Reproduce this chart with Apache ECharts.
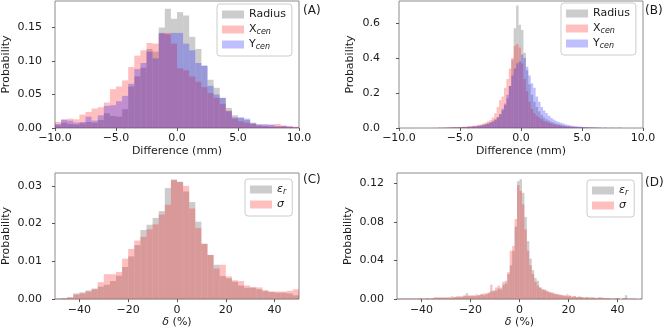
<!DOCTYPE html>
<html>
<head>
<meta charset="utf-8">
<script src="https://cdn.jsdelivr.net/npm/echarts@6/dist/echarts.min.js"></script>
<style>
	html, body { margin: 0; padding: 0; background: #fff; }
	#chart { width: 665px; height: 329px; }
</style>
</head>
<body>
<div id="chart"></div>
<script>
// (A) coarse position/radius differences, 0.5 mm bins from -10 mm
const aStart = -10
const aStep = 0.5
const aRadius = [
	0.004, 0.008, 0.006, 0.005, 0.007, 0.009, 0.008, 0.012, 0.022, 0.018,
	0.017, 0.028, 0.062, 0.077, 0.090, 0.118, 0.114, 0.150, 0.178, 0.163,
	0.173, 0.168, 0.136, 0.118, 0.093, 0.072, 0.060, 0.045, 0.030, 0.019,
	0.015, 0.012, 0.008, 0.004, 0.003, 0.002, 0.003, 0.002, 0.001, 0.001
]
const aXcen = [
	0.009, 0.012, 0.014, 0.013, 0.020, 0.024, 0.029, 0.031, 0.038, 0.058,
	0.062, 0.071, 0.091, 0.108, 0.116, 0.127, 0.126, 0.141, 0.142, 0.126,
	0.089, 0.086, 0.077, 0.069, 0.061, 0.052, 0.045, 0.036, 0.026, 0.014,
	0.010, 0.008, 0.006, 0.004, 0.004, 0.005, 0.006, 0.004, 0.003, 0.002
]
const aYcen = [
	0.006, 0.013, 0.011, 0.008, 0.009, 0.017, 0.011, 0.019, 0.033, 0.034,
	0.040, 0.048, 0.066, 0.088, 0.097, 0.114, 0.104, 0.142, 0.140, 0.142,
	0.142, 0.126, 0.116, 0.097, 0.093, 0.063, 0.050, 0.045, 0.025, 0.016,
	0.016, 0.014, 0.007, 0.006, 0.006, 0.005, 0.002, 0.003, 0.002, 0.001
]

// (B) refined differences, 0.2 mm bins from -10 mm
const bStart = -10
const bStep = 0.2
const bRadius = [
	0, 0, 0, 0, 0, 0, 0, 0, 0, 0,
	0, 0, 0, 0, 0, 0, 0.002, 0, 0.003, 0.002,
	0.004, 0.003, 0.005, 0.004, 0.006, 0.005, 0.007, 0.006, 0.009, 0.008,
	0.012, 0.010, 0.014, 0.016, 0.019, 0.024, 0.028, 0.034, 0.042, 0.052,
	0.062, 0.078, 0.100, 0.130, 0.170, 0.240, 0.390, 0.570, 0.700, 0.590,
	0.560, 0.430, 0.330, 0.250, 0.190, 0.150, 0.120, 0.095, 0.075, 0.060,
	0.050, 0.042, 0.035, 0.030, 0.025, 0.021, 0.018, 0.015, 0.012, 0.010,
	0.008, 0.007, 0.006, 0.005, 0.004, 0.004, 0.003, 0.003, 0.002, 0.002,
	0.002, 0.001, 0.001, 0, 0.001, 0, 0, 0.001, 0, 0,
	0, 0, 0, 0, 0, 0, 0, 0, 0, 0
]
const bXcen = [
	0, 0, 0, 0, 0, 0, 0, 0, 0, 0,
	0, 0, 0, 0, 0.001, 0, 0.002, 0.001, 0.003, 0.002,
	0.003, 0.004, 0.006, 0.004, 0.005, 0.006, 0.008, 0.007, 0.010, 0.011,
	0.013, 0.014, 0.018, 0.020, 0.025, 0.030, 0.038, 0.045, 0.060, 0.084,
	0.120, 0.160, 0.180, 0.230, 0.280, 0.340, 0.400, 0.470, 0.480, 0.460,
	0.370, 0.280, 0.210, 0.150, 0.110, 0.085, 0.070, 0.060, 0.050, 0.040,
	0.035, 0.030, 0.025, 0.020, 0.018, 0.015, 0.012, 0.010, 0.009, 0.008,
	0.007, 0.006, 0.005, 0.004, 0.004, 0.003, 0.003, 0.002, 0.002, 0.002,
	0.001, 0.001, 0.001, 0, 0.001, 0, 0.001, 0, 0, 0.001,
	0.004, 0, 0, 0, 0, 0, 0, 0, 0, 0
]
const bYcen = [
	0, 0, 0, 0, 0, 0, 0, 0, 0, 0,
	0, 0, 0, 0, 0, 0, 0, 0.001, 0, 0.001,
	0.001, 0.002, 0.002, 0.003, 0.003, 0.004, 0.004, 0.005, 0.006, 0.006,
	0.008, 0.009, 0.011, 0.013, 0.016, 0.020, 0.024, 0.030, 0.036, 0.045,
	0.060, 0.080, 0.110, 0.140, 0.190, 0.240, 0.300, 0.340, 0.370, 0.380,
	0.420, 0.400, 0.350, 0.300, 0.255, 0.230, 0.180, 0.150, 0.120, 0.100,
	0.085, 0.070, 0.058, 0.048, 0.040, 0.034, 0.030, 0.025, 0.020, 0.017,
	0.014, 0.012, 0.010, 0.009, 0.008, 0.006, 0.005, 0.004, 0.004, 0.003,
	0.003, 0.002, 0.002, 0.001, 0.001, 0.001, 0, 0.001, 0, 0,
	0, 0, 0, 0, 0, 0, 0, 0, 0, 0
]

// (C) coarse permittivity / conductivity error, 2.5 % bins from -50 %
const cStart = -50
const cStep = 2.5
const cEps = [
	0.0002, 0.0003, 0.0005, 0.0015, 0.0018, 0.0023, 0.0028, 0.0033, 0.0038, 0.0048,
	0.0062, 0.0085, 0.0113, 0.0143, 0.0183, 0.0197, 0.0215, 0.0233, 0.0294, 0.0317,
	0.0311, 0.0285, 0.0257, 0.0205, 0.0147, 0.0117, 0.0091, 0.0061, 0.0055, 0.0046,
	0.0036, 0.0030, 0.0030, 0.0026, 0.0021, 0.0019, 0.0017, 0.0017, 0.0015, 0.0010
]
const cSigma = [
	0.0001, 0.0002, 0.0004, 0.0012, 0.0015, 0.0020, 0.0026, 0.0045, 0.0066, 0.0066,
	0.0072, 0.0107, 0.0133, 0.0155, 0.0165, 0.0185, 0.0198, 0.0224, 0.0250, 0.0315,
	0.0310, 0.0300, 0.0240, 0.0188, 0.0146, 0.0117, 0.0081, 0.0091, 0.0060, 0.0050,
	0.0048, 0.0036, 0.0032, 0.0031, 0.0024, 0.0020, 0.0020, 0.0020, 0.0022, 0.0026
]

// (D) refined error, 1 % bins from -50 %
const dStart = -50
const dStep = 1
const dEps = [
	0, 0.001, 0, 0.001, 0, 0, 0.001, 0, 0.001, 0.001,
	0, 0.001, 0.001, 0, 0.001, 0.001, 0.002, 0.001, 0.001, 0.002,
	0.001, 0.002, 0.001, 0.002, 0.002, 0.003, 0.002, 0.003, 0.006, 0.003,
	0.003, 0.004, 0.003, 0.004, 0.005, 0.004, 0.006, 0.006, 0.008, 0.009,
	0.009, 0.011, 0.012, 0.015, 0.019, 0.026, 0.035, 0.050, 0.075, 0.122,
	0.124, 0.110, 0.085, 0.060, 0.042, 0.030, 0.022, 0.019, 0.012, 0.010,
	0.009, 0.008, 0.007, 0.006, 0.005, 0.005, 0.004, 0.004, 0.003, 0.003,
	0.003, 0.002, 0.003, 0.002, 0.002, 0.002, 0.001, 0.002, 0.001, 0.002,
	0.001, 0.001, 0.002, 0.001, 0.001, 0.001, 0.001, 0, 0.001, 0.001,
	0.001, 0, 0.001, 0.004, 0.001, 0, 0.001, 0, 0, 0
]
const dSigma = [
	0.001, 0, 0.001, 0, 0.001, 0.001, 0, 0.001, 0, 0.001,
	0.001, 0, 0.001, 0.001, 0.001, 0.002, 0.001, 0.002, 0.002, 0.001,
	0.002, 0.001, 0.003, 0.002, 0.003, 0.002, 0.003, 0.004, 0.003, 0.004,
	0.004, 0.003, 0.005, 0.004, 0.005, 0.006, 0.005, 0.007, 0.015, 0.008,
	0.012, 0.014, 0.010, 0.018, 0.016, 0.028, 0.050, 0.055, 0.083, 0.118,
	0.112, 0.098, 0.072, 0.050, 0.035, 0.026, 0.018, 0.014, 0.012, 0.010,
	0.010, 0.008, 0.007, 0.007, 0.006, 0.005, 0.005, 0.004, 0.004, 0.005,
	0.004, 0.003, 0.003, 0.002, 0.003, 0.002, 0.002, 0.002, 0.002, 0.001,
	0.002, 0.001, 0.001, 0.002, 0.001, 0.001, 0.001, 0.001, 0, 0.001,
	0.001, 0, 0.001, 0.001, 0, 0.001, 0, 0.001, 0, 0.001
]

const mmTicks = [-10, -5, 0, 5, 10]
const pctTicks = [-40, -20, 0, 20, 40]
const aYTicks = [0, 0.05, 0.1, 0.15]
const bYTicks = [0, 0.2, 0.4, 0.6]
const cYTicks = [0, 0.01, 0.02, 0.03]
const dYTicks = [0, 0.04, 0.08, 0.12]

const GRAY = 'rgba(128,128,128,0.4)'
const RED = 'rgba(255,0,0,0.25)'
const BLUE = 'rgba(0,0,255,0.25)'
const FONT = 'DejaVu Sans'
const INK = '#1a1a1a'

const legendText = {
	'A Radius': 'Radius', 'A X': 'X{sub|cen}', 'A Y': 'Y{sub|cen}',
	'B Radius': 'Radius', 'B X': 'X{sub|cen}', 'B Y': 'Y{sub|cen}',
	'C eps': '{it|ε}{sub|r}', 'C sigma': '{it|σ}',
	'D eps': '{it|ε}{sub|r}', 'D sigma': '{it|σ}'
}

const node = document.getElementById('chart')
const myChart = echarts.init(node, null, { renderer: 'canvas' })

function bins(start, step, values) {
	return values.map((v, i) => [start + step * (i + 0.5), v])
}

function minus(s) {
	return s.replace('-', '\u2212')
}

const grids = [
	{ left: 54, top: 1, width: 245, height: 127 },
	{ left: 399, top: 1, width: 244, height: 127 },
	{ left: 53, top: 173, width: 246, height: 128 },
	{ left: 397, top: 173, width: 245, height: 128 }
]

function xAxis(idx, min, max, ticks, name, fmt, labelMargin, nameGap) {
	return {
		type: 'value', gridIndex: idx, min: min, max: max,
		name: name, nameLocation: 'middle', nameGap: nameGap,
		nameTextStyle: { fontFamily: FONT, fontSize: 11, color: INK, rich: { it: { fontFamily: FONT, fontSize: 11, fontStyle: 'italic', color: INK } } },
		axisLine: { show: false, onZero: false },
		axisTick: { show: true, length: 3, customValues: ticks, lineStyle: { color: '#555' } },
		axisLabel: { customValues: ticks, formatter: fmt, margin: labelMargin, fontFamily: FONT, fontSize: 11, color: INK },
		splitLine: { show: false }
	}
}

function yAxis(idx, max, ticks, digits, labelMargin) {
	return {
		type: 'value', gridIndex: idx, min: 0, max: max,
		name: 'Probability', nameLocation: 'middle', nameGap: 43, nameRotate: 90,
		nameTextStyle: { fontFamily: FONT, fontSize: 11, color: INK },
		axisLine: { show: false, onZero: false },
		axisTick: { show: true, length: 3, customValues: ticks, lineStyle: { color: '#555' } },
		axisLabel: { customValues: ticks, formatter: v => v.toFixed(digits), margin: labelMargin, fontFamily: FONT, fontSize: 11, color: INK },
		splitLine: { show: false }
	}
}

function hist(idx, name, color, start, step, values) {
	return {
		type: 'bar', name: name, xAxisIndex: idx, yAxisIndex: idx,
		data: bins(start, step, values),
		barWidth: '100%', barGap: '-100%',
		itemStyle: { color: color },
		silent: true
	}
}

function legend(idx, names, left, top) {
	return {
		show: true, orient: 'vertical', left: left, top: top,
		data: names, selectedMode: false,
		icon: 'rect', itemWidth: 22, itemHeight: 8, itemGap: 2,
		padding: [4, 6, 5, 5],
		backgroundColor: 'rgba(255,255,255,0.8)',
		borderColor: '#cccccc', borderWidth: 1, borderRadius: 3,
		formatter: n => legendText[n],
		textStyle: {
			fontFamily: FONT, fontSize: 11, color: INK, lineHeight: 13,
			rich: {
				sub: { fontFamily: FONT, fontSize: 8, fontStyle: 'italic', color: INK, verticalAlign: 'bottom', lineHeight: 8 },
				it: { fontFamily: FONT, fontSize: 11, fontStyle: 'italic', color: INK }
			}
		}
	}
}

const mmFmt = v => minus(v.toFixed(1))
const pctFmt = v => minus(String(v))

const option = {
	animation: false,
	backgroundColor: '#ffffff',
	grid: grids.map(g => Object.assign({ show: true, borderColor: '#8c8c8c', borderWidth: 1, backgroundColor: 'transparent' }, g)),
	xAxis: [
		xAxis(0, -10, 10, mmTicks, 'Difference (mm)', mmFmt, 5, 18),
		xAxis(1, -10, 10, mmTicks, 'Difference (mm)', mmFmt, 5, 18),
		xAxis(2, -50, 50, pctTicks, '{it|δ} (%)', pctFmt, 6, 16),
		xAxis(3, -50, 50, pctTicks, '{it|δ} (%)', pctFmt, 6, 16)
	],
	yAxis: [
		yAxis(0, 0.1896, aYTicks, 2, 13),
		yAxis(1, 0.726, bYTicks, 1, 19),
		yAxis(2, 0.0334, cYTicks, 2, 13),
		yAxis(3, 0.1305, dYTicks, 2, 13)
	],
	legend: [
		legend(0, ['A Radius', 'A X', 'A Y'], 217, 4),
		legend(1, ['B Radius', 'B X', 'B Y'], 561, 3),
		legend(2, ['C eps', 'C sigma'], 245, 179),
		legend(3, ['D eps', 'D sigma'], 587, 180)
	],
	graphic: [
		{ type: 'text', left: 303, top: 5, style: { text: '(A)', fontFamily: FONT, fontSize: 12, fill: INK } },
		{ type: 'text', left: 645, top: 5, style: { text: '(B)', fontFamily: FONT, fontSize: 12, fill: INK } },
		{ type: 'text', left: 303, top: 174, style: { text: '(C)', fontFamily: FONT, fontSize: 12, fill: INK } },
		{ type: 'text', left: 645, top: 177, style: { text: '(D)', fontFamily: FONT, fontSize: 12, fill: INK } }
	],
	series: [
		hist(0, 'A Radius', GRAY, aStart, aStep, aRadius),
		hist(0, 'A X', RED, aStart, aStep, aXcen),
		hist(0, 'A Y', BLUE, aStart, aStep, aYcen),
		hist(1, 'B Radius', GRAY, bStart, bStep, bRadius),
		hist(1, 'B X', RED, bStart, bStep, bXcen),
		hist(1, 'B Y', BLUE, bStart, bStep, bYcen),
		hist(2, 'C eps', GRAY, cStart, cStep, cEps),
		hist(2, 'C sigma', RED, cStart, cStep, cSigma),
		hist(3, 'D eps', GRAY, dStart, dStep, dEps),
		hist(3, 'D sigma', RED, dStart, dStep, dSigma)
	]
}

myChart.setOption(option)

window.addEventListener('resize', () => {
	myChart.resize()
})
</script>
</body>
</html>
